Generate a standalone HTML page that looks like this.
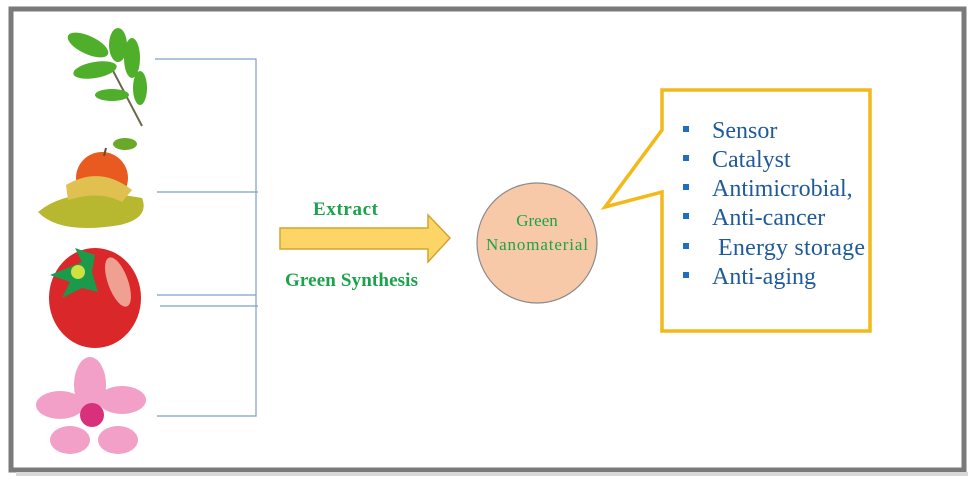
<!DOCTYPE html>
<html><head><style>
body{margin:0;background:#fff;width:975px;height:487px;overflow:hidden}
</style></head><body>
<svg width="975" height="487" xmlns="http://www.w3.org/2000/svg" font-family="Liberation Serif, serif">
<rect x="0" y="0" width="975" height="487" fill="#fff"/>
<rect x="11" y="9" width="953" height="461" fill="#fff" stroke="#7a7a7a" stroke-width="5"/>
<rect x="16" y="472" width="952" height="4" fill="#d8d8d8"/>
<!-- connector lines -->
<g stroke="#7da1c6" stroke-width="1.2" fill="none">
<path d="M155 59H256V416H157"/>
<path d="M157 192H258"/>
<path d="M157 295H256"/>
<path d="M160 306H258"/>
</g>
<!-- leaves -->
<g fill="#4fae2a">
<path d="M142 126 L110 65" stroke="#6a6a4a" stroke-width="2"/>
<ellipse cx="88" cy="45" rx="22" ry="9" transform="rotate(25 88 45)"/>
<ellipse cx="118" cy="45" rx="9" ry="17"/>
<ellipse cx="132" cy="58" rx="8" ry="20"/>
<ellipse cx="95" cy="70" rx="22" ry="8" transform="rotate(-10 95 70)"/>
<ellipse cx="112" cy="95" rx="17" ry="6"/>
<ellipse cx="140" cy="88" rx="7" ry="17"/>
</g>
<!-- apple -->
<circle cx="102" cy="178" r="26" fill="#e85a20"/>
<path d="M104 156 L106 148" stroke="#6a4a2a" stroke-width="2"/>
<ellipse cx="125" cy="144" rx="12" ry="6" fill="#6aa82a"/>
<path d="M38 212 Q70 185 142 198 Q150 218 120 225 Q60 235 38 212Z" fill="#b8b830"/>
<path d="M66 185 Q100 165 132 190 L122 202 Q100 190 68 200Z" fill="#e0c050"/>
<!-- strawberry -->
<ellipse cx="95" cy="298" rx="46" ry="50" fill="#d9272a"/>
<ellipse cx="118" cy="282" rx="10" ry="26" fill="#f0a090" transform="rotate(-20 118 282)"/>
<path d="M75 248 L82 262 L50 275 L70 282 L62 298 L82 288 L98 292 L92 272 L95 255Z" fill="#1a9a4a"/>
<circle cx="78" cy="272" r="7" fill="#d0e040"/>
<!-- flower -->
<g fill="#f2a0c8">
<ellipse cx="90" cy="385" rx="16" ry="28"/>
<ellipse cx="60" cy="405" rx="24" ry="14"/>
<ellipse cx="122" cy="400" rx="24" ry="14"/>
<ellipse cx="70" cy="440" rx="20" ry="14"/>
<ellipse cx="118" cy="440" rx="20" ry="14"/>
</g>
<circle cx="92" cy="415" r="12" fill="#d8307a"/>
<!-- arrow -->
<path d="M280 228H428V215L450 238L428 262V249H280Z" fill="#fdd567" stroke="#d4a430" stroke-width="1.5"/>
<text x="313" y="215" font-size="19" font-weight="bold" fill="#1aa34a" textLength="65">Extract</text>
<text x="285" y="286" font-size="19" font-weight="bold" fill="#1aa34a" textLength="133">Green Synthesis</text>
<!-- circle -->
<circle cx="537" cy="243" r="60" fill="#f8c9a8" stroke="#8a8a8a" stroke-width="1.2"/>
<text x="537" y="226" font-size="17" fill="#1aa34a" text-anchor="middle">Green</text>
<text x="537" y="250" font-size="17" fill="#1aa34a" text-anchor="middle" textLength="102">Nanomaterial</text>
<!-- callout -->
<path d="M662 90H870V331H662V192L605 207L662 130Z" fill="#fff" stroke="#f2b918" stroke-width="3.5"/>
<g font-size="24" fill="#1f5a9a">
<rect x="683" y="126" width="6" height="6" fill="#1f6fc0"/><text x="712" y="138">Sensor</text>
<rect x="683" y="155" width="6" height="6" fill="#1f6fc0"/><text x="712" y="167">Catalyst</text>
<rect x="683" y="184" width="6" height="6" fill="#1f6fc0"/><text x="712" y="196">Antimicrobial,</text>
<rect x="683" y="213" width="6" height="6" fill="#1f6fc0"/><text x="712" y="225">Anti-cancer</text>
<rect x="683" y="243" width="6" height="6" fill="#1f6fc0"/><text x="718" y="255" textLength="147">Energy storage</text>
<rect x="683" y="272" width="6" height="6" fill="#1f6fc0"/><text x="712" y="284">Anti-aging</text>
</g>
</svg>
</body></html>
